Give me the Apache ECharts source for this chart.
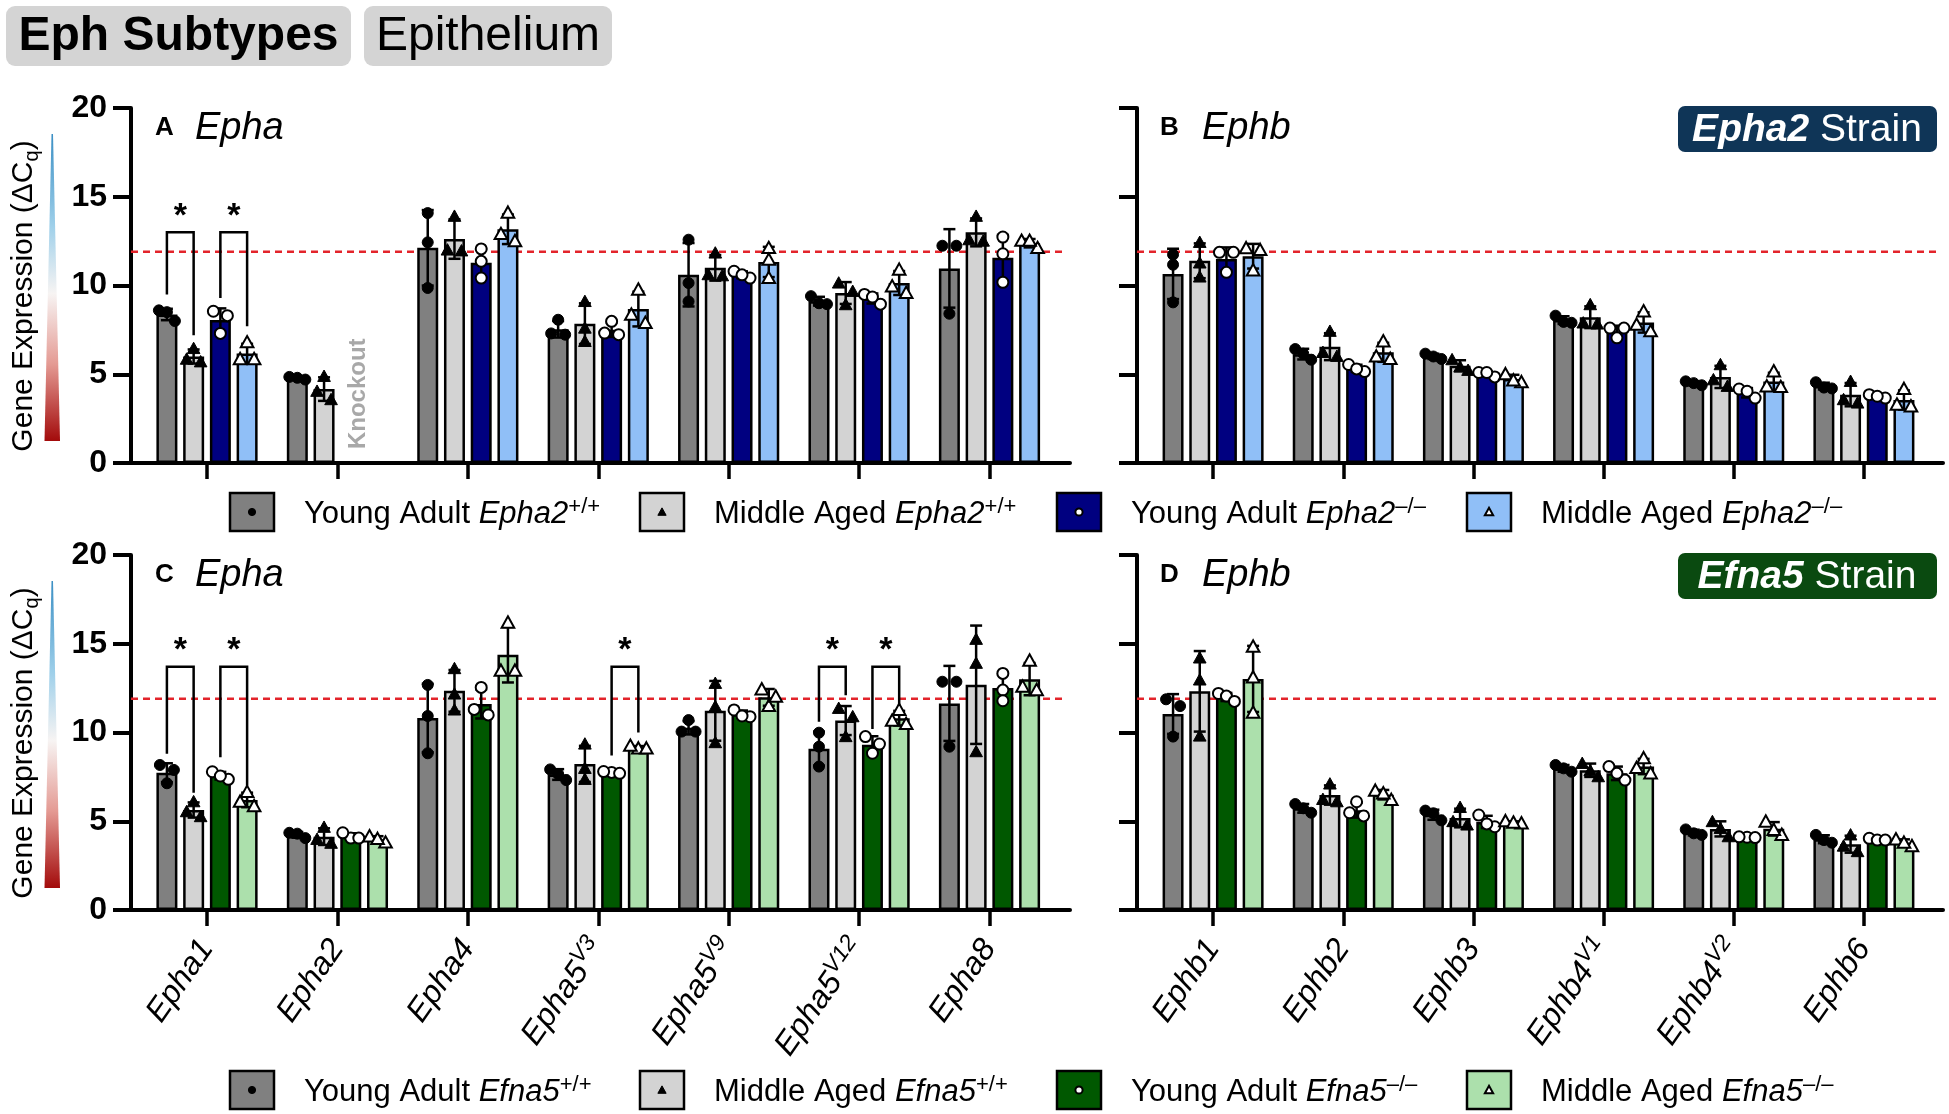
<!DOCTYPE html>
<html>
<head>
<meta charset="UTF-8">
<title>Eph Subtypes - Epithelium</title>
<script src="https://cdn.jsdelivr.net/npm/echarts@6/dist/echarts.min.js"></script>
<style>
  html, body { margin: 0; padding: 0; background: #fff; }
  #main { width: 1949px; height: 1114px; }
</style>
</head>
<body>
<div id="main"></div>
<script>
const FONT = '"Liberation Sans", Arial, Helvetica, sans-serif';

// categories ('^' = superscript variant)
const ephaCats = ['Epha1', 'Epha2', 'Epha4', 'Epha5^V3', 'Epha5^V9', 'Epha5^V12', 'Epha8'];
const ephbCats = ['Ephb1', 'Ephb2', 'Ephb3', 'Ephb4^V1', 'Ephb4^V2', 'Ephb6'];

// y axis
const yMin = 0, yMax = 20, yStep = 5;
const thresholdCq = 11.9;

// individual animals (3 per bar), Epha2 strain, Epha genes
const a2EphaYoungWT = [[8.6, 8.5, 8.0], [4.8, 4.85, 4.7], [14.08, 12.43, 9.86], [8.07, 7.23, 7.3], [12.58, 10.14, 9.1], [8.95, 9.4, 9.0], [12.24, 12.24, 8.41]];
const a2EphaMidWT   = [[6.45, 5.85, 5.7], [4.88, 4.04, 3.57], [13.9, 11.95, 12.0], [9.1, 7.6, 6.85], [11.83, 10.61, 10.55], [10.14, 9.67, 8.92], [13.9, 12.58, 12.5]];
const a2EphaYoungKO = [[8.55, 8.3, 7.3], null, [12.06, 11.36, 10.42], [7.23, 7.98, 7.32], [10.42, 10.8, 10.6], [9.5, 8.95, 9.35], [12.73, 11.79, 10.18]];
const a2EphaMidKO   = [[6.8, 5.85, 5.85], null, [14.1, 12.9, 12.5], [9.77, 7.89, 8.36], [12.11, 11.45, 10.42], [10.89, 9.58, 9.95], [12.11, 12.52, 12.52]];

// Epha2 strain, Ephb genes
const a2EphbYoungWT = [[11.74, 11.17, 9.05], [6.42, 6.16, 5.82], [5.86, 6.16, 6.0], [7.95, 8.3, 7.9], [4.38, 4.6, 4.5], [4.2, 4.55, 4.25]];
const a2EphbMidWT   = [[12.43, 11.27, 10.48], [7.42, 6.01, 6.23], [5.82, 5.22, 5.41], [8.92, 7.83, 7.89], [5.54, 4.32, 4.69], [4.6, 3.38, 3.57]];
const a2EphbYoungKO = [[11.87, 11.87, 10.74], [5.15, 5.55, 5.3], [4.85, 5.1, 5.1], [7.6, 7.05, 7.6], [4.17, 3.66, 4.04], [3.66, 3.85, 3.76]];
const a2EphbMidKO   = [[12.1, 12.0, 10.85], [6.85, 5.86, 6.0], [5.0, 4.55, 4.65], [8.54, 7.42, 7.79], [5.16, 4.32, 4.28], [4.17, 3.19, 3.29]];

// Efna5 strain, Epha genes
const e5EphaYoungWT = [[8.17, 7.89, 7.14], [4.05, 4.35, 4.3], [12.68, 10.93, 8.83], [7.92, 7.32, 7.66], [10.7, 10.05, 10.05], [9.99, 9.2, 8.08], [12.86, 12.86, 9.2]];
const e5EphaMidWT   = [[6.1, 5.26, 5.54], [4.66, 3.76, 3.98], [13.6, 12.17, 11.27], [9.35, 7.98, 7.36], [12.77, 11.46, 9.43], [11.36, 10.89, 9.77], [15.25, 13.9, 8.92]];
const e5EphaYoungKO = [[7.36, 7.79, 7.55], [4.05, 4.35, 4.05], [12.54, 10.99, 11.3], [7.75, 7.8, 7.7], [10.89, 11.27, 10.93], [9.77, 8.83, 9.35], [13.33, 12.39, 11.79]];
const e5EphaMidKO   = [[6.65, 5.85, 6.1], [3.8, 4.15, 4.0], [16.19, 13.48, 13.48], [9.1, 9.25, 9.1], [12.43, 11.49, 12.02], [11.27, 10.48, 10.67], [14.05, 12.39, 12.58]];

// Efna5 strain, Ephb genes
const e5EphbYoungWT = [[11.87, 11.49, 9.77], [5.48, 5.97, 5.73], [5.6, 5.05, 5.45], [7.79, 8.17, 7.98], [4.23, 4.54, 4.32], [3.79, 4.23, 3.94]];
const e5EphbMidWT   = [[14.2, 12.96, 9.8], [7.1, 6.1, 6.23], [5.78, 4.79, 4.98], [8.26, 7.51, 7.85], [4.98, 4.13, 4.6], [4.23, 3.29, 3.6]];
const e5EphbYoungKO = [[12.2, 12.05, 11.75], [6.1, 5.3, 5.48], [5.35, 4.69, 4.85], [8.08, 7.32, 7.7], [4.1, 4.12, 4.08], [4.04, 3.94, 3.94]];
const e5EphbMidKO   = [[14.84, 13.1, 11.12], [6.2, 6.72, 6.57], [4.88, 5.0, 4.92], [8.55, 7.7, 8.0], [4.98, 4.23, 4.51], [3.6, 3.98, 3.79]];

// significance brackets: [category, fromBar, toBar, left leg end, top, right leg end]
const a2EphaBrackets = [[0, 0, 1, 9.5, 13.0, 7.2], [0, 2, 3, 9.3, 13.0, 7.7]];
const e5EphaBrackets = [[0, 0, 1, 8.8, 13.7, 6.6], [0, 2, 3, 8.6, 13.7, 7.0], [3, 2, 3, 8.7, 13.7, 10.0],
                        [5, 0, 1, 10.6, 13.7, 12.1], [5, 2, 3, 10.2, 13.7, 11.5]];

// legend text
const groupAges = ['Young Adult', 'Middle Aged', 'Young Adult', 'Middle Aged'];
const groupGenotypes = ['+/+', '+/+', '\u2013/\u2013', '\u2013/\u2013'];
const groupShapes = ['circle', 'triangle', 'circle', 'triangle'];
const groupMarkerFill = ['#000', '#000', '#fff', '#fff'];

const epha2Colors = ['#808080', '#d3d3d3', '#000080', '#90bff7'];
const efna5Colors = ['#808080', '#d3d3d3', '#005800', '#ace0ac'];

// bar geometry (fractions of the category band)
const BW = 0.161, STEP = 0.205;

// ---------- layout ----------
const COLS = {
  left:  { axis: 131, band0: 141.8, band1: 1054.7, end: 1070 },
  right: { axis: 1137, band0: 1148, band1: 1929, end: 1943 }
};
const ROWS = { top: { y0: 108, y1: 463 }, bottom: { y0: 555, y1: 910 } };

const panels = [
  { col: 'left',  row: 'top',    cats: ephaCats, groups: [a2EphaYoungWT, a2EphaMidWT, a2EphaYoungKO, a2EphaMidKO], colors: epha2Colors, brackets: a2EphaBrackets, yLabels: true,  xLabels: false, knockout: true },
  { col: 'right', row: 'top',    cats: ephbCats, groups: [a2EphbYoungWT, a2EphbMidWT, a2EphbYoungKO, a2EphbMidKO], colors: epha2Colors, brackets: [], yLabels: false, xLabels: false, knockout: false },
  { col: 'left',  row: 'bottom', cats: ephaCats, groups: [e5EphaYoungWT, e5EphaMidWT, e5EphaYoungKO, e5EphaMidKO], colors: efna5Colors, brackets: e5EphaBrackets, yLabels: true,  xLabels: true,  knockout: false },
  { col: 'right', row: 'bottom', cats: ephbCats, groups: [e5EphbYoungWT, e5EphbMidWT, e5EphbYoungKO, e5EphbMidKO], colors: efna5Colors, brackets: [], yLabels: false, xLabels: true,  knockout: false }
];

function mean(a) { return a.reduce((s, v) => s + v, 0) / a.length; }
function sd(a) {
  const m = mean(a);
  return Math.sqrt(a.reduce((s, v) => s + (v - m) * (v - m), 0) / (a.length - 1));
}

function slotX(api, c, slot) {
  const band = api.size([1, 0])[0];
  return api.coord([c, 0])[0] + (slot - 1.5) * band * STEP;
}

// simple beeswarm: points closer than a marker spread sideways
function swarm(ys) {
  const idx = ys.map((y, i) => i).sort((a, b) => ys[a] - ys[b]);
  const offs = [0, 0, 0];
  let i = 0;
  while (i < idx.length) {
    let j = i;
    while (j + 1 < idx.length && ys[idx[j + 1]] - ys[idx[j]] < 9) j++;
    const n = j - i + 1;
    const pattern = n === 1 ? [0] : n === 2 ? [-7, 7] : [-8, 0, 8];
    for (let k = 0; k < n; k++) offs[idx[i + k]] = pattern[k];
    i = j + 1;
  }
  return offs;
}

function marker(shape, x, y, fill, r) {
  const style = { fill: fill, stroke: '#000', lineWidth: fill === '#000' ? 1 : 2 };
  if (shape === 'circle') return { type: 'circle', shape: { cx: x, cy: y, r: r }, style: style };
  const h = r * 1.15;
  return { type: 'polygon', shape: { points: [[x, y - h], [x + h, y + h * 0.8], [x - h, y + h * 0.8]] }, style: style };
}

function pointsRenderer(slot) {
  return function (params, api) {
    const c = api.value(0), m = api.value(1), s = api.value(2);
    const pts = [api.value(3), api.value(4), api.value(5)];
    const x = slotX(api, c, slot);
    const yHi = api.coord([c, m + s])[1], yLo = api.coord([c, m - s])[1];
    const ls = { stroke: '#000', lineWidth: 2.5 };
    const children = [
      { type: 'line', shape: { x1: x, y1: yHi, x2: x, y2: yLo }, style: ls },
      { type: 'line', shape: { x1: x - 6, y1: yHi, x2: x + 6, y2: yHi }, style: ls },
      { type: 'line', shape: { x1: x - 6, y1: yLo, x2: x + 6, y2: yLo }, style: ls }
    ];
    const ys = pts.map(p => api.coord([c, p])[1]);
    const offs = swarm(ys);
    ys.forEach((y, k) => children.push(marker(groupShapes[slot], x + offs[k], y, groupMarkerFill[slot], 5.5)));
    return { type: 'group', children: children };
  };
}

function bracketRenderer(params, api) {
  const c = api.value(0);
  const xa = slotX(api, c, api.value(1)), xb = slotX(api, c, api.value(2));
  const yl = api.coord([c, api.value(3)])[1];
  const yt = api.coord([c, api.value(4)])[1];
  const yr = api.coord([c, api.value(5)])[1];
  return {
    type: 'group',
    children: [
      { type: 'polyline', shape: { points: [[xa, yl], [xa, yt], [xb, yt], [xb, yr]] }, style: { stroke: '#000', lineWidth: 2.5, fill: null } },
      { type: 'text', x: (xa + xb) / 2, y: yt - 16, style: { text: '*', fontSize: 34, fontWeight: 'bold', fontFamily: FONT, fill: '#000', align: 'center', verticalAlign: 'middle' } }
    ]
  };
}

function catLabel(v) {
  const parts = v.split('^');
  return parts[1] ? '{i|' + parts[0] + '}{s|' + parts[1] + '}' : '{i|' + parts[0] + '}';
}

const grid = [], xAxis = [], yAxis = [], series = [];

panels.forEach((p, pi) => {
  const col = COLS[p.col], row = ROWS[p.row];
  const fi = pi * 2, di = pi * 2 + 1;
  const h = row.y1 - row.y0;
  // frame grid: axis lines, y ticks, threshold
  grid.push({ left: col.axis, top: row.y0, width: col.end - col.axis, height: h });
  // data grid: the category bands
  grid.push({ left: col.band0, top: row.y0, width: col.band1 - col.band0, height: h });

  xAxis.push({
    type: 'value', gridIndex: fi, min: 0, max: 1,
    axisLine: { show: true, onZero: false, lineStyle: { color: '#000', width: 4 } },
    axisTick: { show: false }, axisLabel: { show: false }, splitLine: { show: false }
  });
  yAxis.push({
    type: 'value', gridIndex: fi, min: yMin, max: yMax, interval: yStep,
    axisLine: { show: true, onZero: false, lineStyle: { color: '#000', width: 4 } },
    axisTick: { show: true, length: 18, lineStyle: { color: '#000', width: 4 } },
    axisLabel: { show: p.yLabels, color: '#000', fontSize: 32, fontWeight: 'bold', fontFamily: FONT, margin: 24 },
    splitLine: { show: false }
  });
  xAxis.push({
    type: 'category', gridIndex: di, data: p.cats,
    axisLine: { show: false },
    axisTick: { show: true, alignWithLabel: true, interval: 0, length: 16, lineStyle: { color: '#000', width: 3.5 } },
    axisLabel: {
      show: p.xLabels, interval: 0, rotate: 55, margin: 33, formatter: catLabel,
      rich: {
        i: { fontStyle: 'italic', fontSize: 32, fontFamily: FONT, color: '#000', lineHeight: 40 },
        s: { fontStyle: 'italic', fontSize: 23, fontFamily: FONT, color: '#000', verticalAlign: 'top', lineHeight: 24 }
      }
    },
    splitLine: { show: false }
  });
  yAxis.push({ type: 'value', gridIndex: di, min: yMin, max: yMax, show: false, splitLine: { show: false } });

  // threshold line across the whole frame
  series.push({
    type: 'custom', xAxisIndex: fi, yAxisIndex: fi, silent: true, z: 1,
    data: [[0, thresholdCq]],
    renderItem: function (params, api) {
      const a = api.coord([0, api.value(1)]), b = api.coord([1, api.value(1)]);
      return { type: 'line', shape: { x1: a[0], y1: a[1], x2: b[0] - 4, y2: b[1] }, style: { stroke: '#e3242b', lineWidth: 2.5, lineDash: [7, 5] } };
    }
  });

  p.groups.forEach((g, gi) => {
    series.push({
      type: 'bar', xAxisIndex: di, yAxisIndex: di, silent: true, z: 2,
      barWidth: (BW * 100) + '%', barGap: ((STEP - BW) / BW * 100) + '%',
      itemStyle: { color: p.colors[gi], borderColor: '#000', borderWidth: 2.5 },
      data: g.map(v => v ? mean(v) : '-')
    });
  });
  p.groups.forEach((g, gi) => {
    series.push({
      type: 'custom', xAxisIndex: di, yAxisIndex: di, silent: true, z: 4,
      renderItem: pointsRenderer(gi),
      data: g.map((v, c) => v ? [c, mean(v), sd(v)].concat(v) : null).filter(d => d)
    });
  });
  if (p.brackets.length) {
    series.push({
      type: 'custom', xAxisIndex: di, yAxisIndex: di, silent: true, z: 5,
      renderItem: bracketRenderer, data: p.brackets
    });
  }
  if (p.knockout) {
    series.push({
      type: 'custom', xAxisIndex: di, yAxisIndex: di, silent: true, z: 5,
      data: [[1, 3.9]],
      renderItem: function (params, api) {
        const x = slotX(api, api.value(0), 2.3);
        const y = api.coord([api.value(0), api.value(1)])[1];
        return { type: 'text', x: x, y: y, rotation: Math.PI / 2,
          style: { text: 'Knockout', fontSize: 24, fontWeight: 'bold', fontFamily: FONT, fill: '#a8a8a8', align: 'center', verticalAlign: 'middle' } };
      }
    });
  }
});

// ---------- graphic furniture: titles, panel tags, legends ----------
const graphic = [];

function txt(x, y, text, style, extra) {
  return Object.assign({ type: 'text', x: x, y: y, silent: true,
    style: Object.assign({ text: text, fontFamily: FONT, fill: '#000', align: 'left', verticalAlign: 'middle' }, style) }, extra || {});
}

// header boxes
graphic.push({ type: 'rect', shape: { x: 6, y: 6, width: 345, height: 60, r: 9 }, style: { fill: '#d4d4d4' }, silent: true });
graphic.push(txt(178.5, 37, 'Eph Subtypes', { fontSize: 48, fontWeight: 'bold', align: 'center' }));
graphic.push({ type: 'rect', shape: { x: 364, y: 6, width: 248, height: 60, r: 9 }, style: { fill: '#d4d4d4' }, silent: true });
graphic.push(txt(488, 37, 'Epithelium', { fontSize: 48, align: 'center' }));

// strain boxes
[['Epha2', '#0f3557', 129], ['Efna5', '#0a4a10', 576]].forEach(s => {
  graphic.push({ type: 'rect', shape: { x: 1678, y: s[2] - 23, width: 259, height: 46, r: 7 }, style: { fill: s[1] }, silent: true });
  graphic.push(txt(1807, s[2] + 1, '{b|' + s[0] + '} Strain', {
    fontSize: 39, fill: '#fff', align: 'center',
    rich: { b: { fontSize: 39, fontStyle: 'italic', fontWeight: 'bold', fontFamily: FONT, fill: '#fff' } }
  }));
});

// panel tags
[['A', 'Epha', 155, 195, 128], ['B', 'Ephb', 1160, 1202, 128], ['C', 'Epha', 155, 195, 575], ['D', 'Ephb', 1160, 1202, 575]].forEach(t => {
  graphic.push(txt(t[2], t[4], t[0], { fontSize: 26, fontWeight: 'bold' }));
  graphic.push(txt(t[3], t[4], t[1], { fontSize: 38, fontStyle: 'italic' }));
});

// y titles with colour wedges
[0, 447].forEach(dy => {
  graphic.push(txt(24, 296 + dy, '{n|Gene Expression (\u0394C}{q|q}{n|)}', {
    align: 'center',
    rich: {
      n: { fontSize: 30, fontFamily: FONT, fill: '#000', lineHeight: 36 },
      q: { fontSize: 20, fontFamily: FONT, fill: '#000', lineHeight: 22, verticalAlign: 'bottom' }
    }
  }, { rotation: Math.PI / 2 }));
  graphic.push({
    type: 'polygon', silent: true,
    shape: { points: [[51.5, 134 + dy], [53, 134 + dy], [60, 441 + dy], [44.5, 441 + dy]] },
    style: {
      fill: { type: 'linear', x: 0, y: 0, x2: 0, y2: 1, colorStops: [
        { offset: 0, color: '#3b8fc4' }, { offset: 0.3, color: '#9fd0ea' }, { offset: 0.52, color: '#f7f4f3' },
        { offset: 0.75, color: '#e49a93' }, { offset: 1, color: '#a30b0b' }] }
    }
  });
});

// legends
const legendX = [230, 640, 1057, 1467];
[['Epha2', epha2Colors, 512], ['Efna5', efna5Colors, 1090]].forEach(row => {
  const y = row[2];
  groupAges.forEach((age, gi) => {
    const x = legendX[gi];
    graphic.push({ type: 'rect', silent: true, shape: { x: x, y: y - 19, width: 44, height: 38 }, style: { fill: row[1][gi], stroke: '#000', lineWidth: 2.5 } });
    const m = marker(groupShapes[gi], x + 22, y, groupMarkerFill[gi], 3.6);
    m.silent = true;
    graphic.push(m);
    graphic.push(txt(x + 74, y + 2, '{r|' + age + ' }{i|' + row[0] + '}{s|' + groupGenotypes[gi] + '}', {
      rich: {
        r: { fontSize: 31, fontFamily: FONT, fill: '#000', lineHeight: 36 },
        i: { fontSize: 31, fontFamily: FONT, fontStyle: 'italic', fill: '#000', lineHeight: 36 },
        s: { fontSize: 22, fontFamily: FONT, fill: '#000', lineHeight: 22, verticalAlign: 'top' }
      }
    }));
  });
});

const chart = echarts.init(document.getElementById('main'), null, { renderer: 'canvas' });
chart.setOption({
  animation: false,
  backgroundColor: '#fff',
  grid: grid,
  xAxis: xAxis,
  yAxis: yAxis,
  series: series,
  graphic: graphic
});
</script>
</body>
</html>
